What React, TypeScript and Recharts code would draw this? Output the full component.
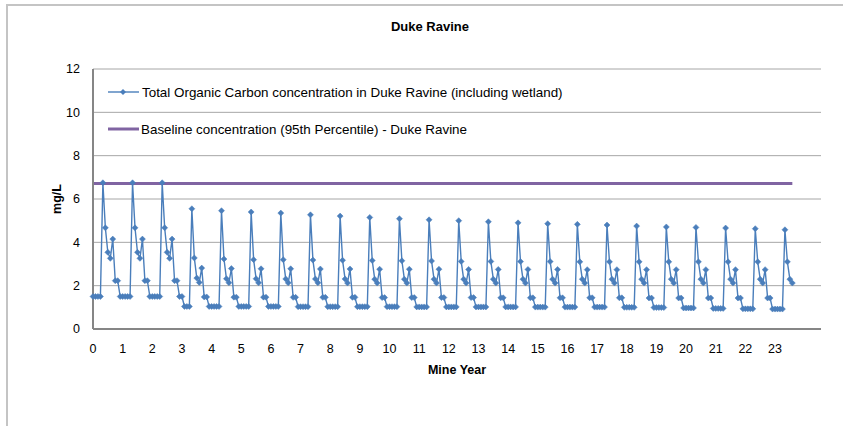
import React from "react";
import { LineChart, Line, XAxis, YAxis, CartesianGrid } from "recharts";

// Tick labels
const yearTicks = [0, 1, 2, 3, 4, 5, 6, 7, 8, 9, 10, 11, 12, 13, 14, 15, 16, 17, 18, 19, 20, 21, 22, 23];
const concTicks = [0, 2, 4, 6, 8, 10, 12];

// Seasonal TOC values (mg/L) read per mine year
const startTOC = [1.5, 1.5, 1.5, 1.5, 1.04, 1.04, 1.04, 1.03, 1.03, 1.03, 1.03, 1.02, 1.02, 1.02, 1.02, 1.01, 1.01, 1.01, 1.0, 0.99, 0.97, 0.95, 0.93, 0.92];
const winterTOC = [1.5, 1.5, 1.5, 1.04, 1.04, 1.04, 1.04, 1.03, 1.03, 1.03, 1.03, 1.02, 1.02, 1.02, 1.02, 1.01, 1.01, 1.01, 1.0, 0.99, 0.97, 0.95, 0.93, 0.92];
const peakTOC = [6.75, 6.75, 6.75, 5.55, 5.46, 5.4, 5.35, 5.27, 5.21, 5.15, 5.09, 5.04, 5.0, 4.95, 4.9, 4.86, 4.83, 4.8, 4.75, 4.71, 4.69, 4.66, 4.63, 4.58];
const recession1TOC = [4.67, 4.67, 4.67, 3.28, 3.23, 3.2, 3.2, 3.18, 3.17, 3.16, 3.15, 3.14, 3.12, 3.12, 3.11, 3.11, 3.1, 3.1, 3.1, 3.1, 3.1, 3.1, 3.1, 3.1];
const recession2TOC = [3.54, 3.54, 3.54, 2.35, 2.32, 2.32, 2.31, 2.31, 2.31, 2.3, 2.3, 2.3, 2.3, 2.3, 2.3, 2.3, 2.3, 2.3, 2.3, 2.3, 2.3, 2.3, 2.3, 2.3];
const recession3TOC = [3.26, 3.26, 3.26, 2.15, 2.14, 2.13, 2.13, 2.13, 2.12, 2.12, 2.12, 2.12, 2.12, 2.12, 2.12, 2.12, 2.12, 2.12, 2.12, 2.12, 2.12, 2.12, 2.12, 2.12];
const reboundTOC = [4.15, 4.15, 4.15, 2.81, 2.79, 2.78, 2.78, 2.77, 2.77, 2.76, 2.76, 2.76, 2.75, 2.75, 2.75, 2.75, 2.74, 2.74, 2.74, 2.74, 2.74, 2.74, 2.74];
const fallTOC = [2.23, 2.23, 2.23, 1.48, 1.47, 1.47, 1.46, 1.46, 1.46, 1.45, 1.45, 1.45, 1.45, 1.44, 1.44, 1.44, 1.44, 1.44, 1.43, 1.43, 1.43, 1.43, 1.43];
const lateFallTOC = [1.5, 1.5, 1.5, 1.04, 1.04, 1.04, 1.03, 1.03, 1.03, 1.03, 1.02, 1.02, 1.02, 1.02, 1.01, 1.01, 1.01, 1.0, 0.99, 0.97, 0.95, 0.93, 0.92];
const lastMonth = 283;
const baselineTOC = 6.72;

const pick = (y: number, m: number): number => {
  if (m === 0) return startTOC[y];
  if (m <= 3) return winterTOC[y];
  if (m === 4) return peakTOC[y];
  if (m === 5) return recession1TOC[y];
  if (m === 6) return recession2TOC[y];
  if (m === 7) return recession3TOC[y];
  if (m === 8) return reboundTOC[y];
  if (m <= 10) return fallTOC[y];
  return lateFallTOC[y];
};

const data: { x: number; toc: number; baseline: number }[] = [];
for (let y = 0; y < yearTicks.length; y++) {
  for (let m = 0; m < 12; m++) {
    const month = y * 12 + m;
    if (month > lastMonth) break;
    data.push({ x: month / 12, toc: pick(y, m), baseline: baselineTOC });
  }
}

const BLUE = "#4A7EBB";
const PURPLE = "#8064A2";
const FONT = "'Liberation Sans', Arial, sans-serif";

const Diamond = (props: any) => {
  const { cx, cy, index } = props;
  if (cx == null || cy == null) return <g key={`d${index}`} />;
  const r = 3;
  return (
    <path
      key={`d${index}`}
      d={`M${cx},${cy - r}L${cx + r},${cy}L${cx},${cy + r}L${cx - r},${cy}Z`}
      fill={BLUE}
      stroke={BLUE}
      strokeWidth={0.5}
    />
  );
};

export default function App() {
  return (
    <div style={{ position: "absolute", left: 0, top: 0, width: 843, height: 426, background: "#fff", fontFamily: FONT }}>
      <div style={{ position: "absolute", left: 6, top: 4, width: 837, height: 422, borderTop: "2px solid #c4c4c4", borderLeft: "2px solid #c4c4c4" }} />
      <div style={{ position: "absolute", left: 0, width: 860, top: 19, lineHeight: "16px", textAlign: "center", fontSize: 13, fontWeight: "bold" }}>
        Duke Ravine
      </div>
      <div style={{ position: "absolute", left: 0, top: 0 }}>
        <LineChart width={843} height={426} data={data} margin={{ top: 69, right: 22, bottom: 67, left: 33 }}>
          <CartesianGrid vertical={false} stroke="#a6a6a6" />
          <XAxis
            type="number"
            dataKey="x"
            domain={[0, 24.55]}
            ticks={yearTicks}
            interval={0}
            tickLine={false}
            tickSize={0}
            tickMargin={15}
            height={30}
            axisLine={{ stroke: "#868686", strokeWidth: 2 }}
            tick={{ fill: "#000", fontSize: 12.5, fontFamily: FONT }}
            label={(p: any) => (
              <text x={457} y={374} textAnchor="middle" fontWeight="bold" fontSize={12.5} fontFamily={FONT} fill="#000">
                Mine Year
              </text>
            )}
          />
          <YAxis
            type="number"
            domain={[0, 12]}
            ticks={concTicks}
            interval={0}
            width={60}
            tickLine={false}
            tickSize={0}
            tickMargin={13}
            axisLine={{ stroke: "#868686", strokeWidth: 2 }}
            tick={{ fill: "#000", fontSize: 12.5, fontFamily: FONT }}
            label={(p: any) => (
              <text x={57} y={199} transform="rotate(-90, 57, 199)" textAnchor="middle" dominantBaseline="central" fontWeight="bold" fontSize={12.5} fontFamily={FONT} fill="#000">
                mg/L
              </text>
            )}
          />
          <Line
            type="linear"
            dataKey="toc"
            stroke={BLUE}
            strokeWidth={1.4}
            dot={Diamond}
            activeDot={false}
            isAnimationActive={false}
          />
          <Line
            type="linear"
            dataKey="baseline"
            stroke={PURPLE}
            strokeWidth={3}
            dot={false}
            activeDot={false}
            isAnimationActive={false}
          />
        </LineChart>
      </div>
      <div style={{ position: "absolute", left: 108, top: 84, height: 16, display: "flex", alignItems: "center", fontSize: 13.4, whiteSpace: "nowrap" }}>
        <svg width={32} height={10} style={{ marginRight: 2 }}>
          <line x1={0} y1={5} x2={31} y2={5} stroke={BLUE} strokeWidth={1.4} />
          <path d="M15,2L18,5L15,8L12,5Z" fill={BLUE} />
        </svg>
        <span>Total Organic Carbon concentration in Duke Ravine (including wetland)</span>
      </div>
      <div style={{ position: "absolute", left: 108, top: 121, height: 16, display: "flex", alignItems: "center", fontSize: 13.4, whiteSpace: "nowrap" }}>
        <svg width={32} height={10} style={{ marginRight: 1 }}>
          <line x1={0} y1={5} x2={31} y2={5} stroke={PURPLE} strokeWidth={3} />
        </svg>
        <span>Baseline concentration (95th Percentile) - Duke Ravine</span>
      </div>
    </div>
  );
}
